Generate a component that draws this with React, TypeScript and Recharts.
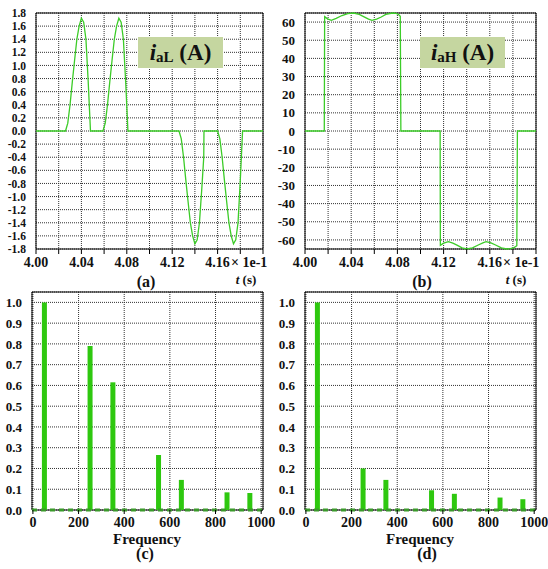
import {
  Bar,
  CartesianGrid,
  ComposedChart,
  Line,
  LineChart,
  ReferenceArea,
  ReferenceLine,
  XAxis,
  YAxis,
} from "recharts";

// (a) low-voltage side phase current, time in units of 1e-1 s
const lowTime = [
  4.0, 4.026, 4.028, 4.03, 4.032, 4.034, 4.036, 4.038, 4.04, 4.042, 4.044, 4.046, 4.048,
  4.059, 4.061, 4.063, 4.065, 4.067, 4.069, 4.071, 4.073, 4.075, 4.077, 4.079, 4.081,
  4.126, 4.128, 4.13, 4.132, 4.134, 4.136, 4.138, 4.14, 4.142, 4.144, 4.146, 4.1478, 4.148,
  4.16, 4.162, 4.164, 4.166, 4.168, 4.17, 4.172, 4.174, 4.176, 4.178, 4.18, 4.182, 4.2,
];
const lowCurrent = [
  0, 0, 0.12, 0.4, 0.75, 1.08, 1.4, 1.6, 1.72, 1.66, 1.4, 0.75, 0,
  0, 0.12, 0.4, 0.75, 1.08, 1.4, 1.6, 1.72, 1.66, 1.4, 0.75, 0,
  0, -0.12, -0.4, -0.75, -1.08, -1.4, -1.6, -1.72, -1.66, -1.4, -0.9, -0.4, 0,
  0, -0.12, -0.4, -0.75, -1.08, -1.4, -1.6, -1.72, -1.66, -1.4, -0.75, 0, 0,
];

// (b) high-voltage side phase current
const highTime = [
  4.0, 4.0167, 4.017, 4.0195, 4.0228, 4.027, 4.032, 4.037, 4.042, 4.047, 4.052, 4.055,
  4.058, 4.062, 4.066, 4.07, 4.0757, 4.079, 4.081, 4.0825, 4.083,
  4.117, 4.1172, 4.12, 4.1242, 4.128, 4.132, 4.136, 4.1401, 4.145, 4.15, 4.154, 4.1568,
  4.161, 4.165, 4.17, 4.1747, 4.178, 4.181, 4.1834, 4.1839, 4.2,
];
const highCurrent = [
  0, 0, 63, 61.8, 61, 62, 63.6, 64.7, 65, 64.2, 62.6, 61.6,
  61, 61.6, 62.8, 64.2, 65, 64.8, 64.2, 63.2, 0,
  0, -63, -61.8, -61, -61.8, -63, -64.4, -65, -64.4, -62.8, -61.6, -61,
  -61.6, -62.8, -64.4, -65, -64.8, -64.2, -63.2, 0, 0,
];

const harmonicFreq = [50, 250, 350, 550, 650, 850, 950];
const lowSpectrum = [1.0, 0.79, 0.615, 0.265, 0.145, 0.085, 0.082];
const highSpectrum = [1.0, 0.2, 0.145, 0.095, 0.078, 0.06, 0.052];

const timeTicks = [4.0, 4.02, 4.04, 4.06, 4.08, 4.1, 4.12, 4.14, 4.16, 4.18, 4.2];
const lowTicks = [-1.8, -1.6, -1.4, -1.2, -1.0, -0.8, -0.6, -0.4, -0.2, 0, 0.2, 0.4, 0.6, 0.8, 1.0, 1.2, 1.4, 1.6, 1.8];
const highTicks = [-60, -50, -40, -30, -20, -10, 0, 10, 20, 30, 40, 50, 60];
const freqTicks = [0, 200, 400, 600, 800, 1000];
const ampTicks = [0, 0.1, 0.2, 0.3, 0.4, 0.5, 0.6, 0.7, 0.8, 0.9, 1.0];

const FONT = '"Liberation Serif", "Times New Roman", serif';
const LINE_GREEN = "#3ccc28";
const BAR_GREEN = "#2ec80f";
const xTick = { fontSize: 14, fill: "#111", fontFamily: FONT, fontWeight: 700 };
const yTick = { fontSize: 13, fill: "#111", fontFamily: FONT, fontWeight: 700 };
const denseTick = { ...yTick, fontSize: 11.5 };

const zip = (xs: number[], ys: number[]) => xs.map((t, i) => ({ t, v: ys[i] }));

const timeLabel = (v: number) => {
  const k = Math.round(v * 100);
  return k % 4 === 0 && k < 419 ? v.toFixed(2) : "";
};

const WaveChart = ({ data, domain, ticks, fmt, left, width, yWidth, yStyle }: any) => (
  <div style={{ position: "absolute", left, top: 0 }}>
    <LineChart width={width} height={280} data={data} margin={{ top: 13, right: 12, bottom: 0, left: 0 }}>
      <CartesianGrid stroke="#333" strokeDasharray="1 1" />
      <XAxis
        type="number"
        dataKey="t"
        domain={[4.0, 4.2]}
        ticks={timeTicks}
        interval={0}
        tickFormatter={timeLabel}
        tick={xTick}
        height={31}
        tickSize={5}
        tickMargin={3}
        axisLine={false}
        stroke="#000"
      />
      <YAxis
        type="number"
        domain={domain}
        ticks={ticks}
        interval={0}
        tickFormatter={fmt}
        tick={yStyle}
        width={yWidth}
        tickLine={false}
        axisLine={false}
        tickMargin={4}
      />
      <ReferenceArea x1={4.0} x2={4.2} y1={domain[0]} y2={domain[1]} fill="none" stroke="#000" strokeOpacity={1} />
      <Line type="linear" dataKey="v" stroke={LINE_GREEN} strokeWidth={1.3} dot={false} isAnimationActive={false} />
    </LineChart>
  </div>
);

const SpectrumChart = ({ values, left, width, yWidth }: any) => {
  const data = harmonicFreq.map((f, i) => ({ f, a: values[i] }));
  return (
    <div style={{ position: "absolute", left, top: 280 }}>
      <ComposedChart width={width} height={289} data={data} margin={{ top: 12, right: 12, bottom: 0, left: 0 }}>
        <CartesianGrid stroke="#333" strokeDasharray="1 1" />
        <XAxis
          type="number"
          dataKey="f"
          domain={[-4, 1008]}
          ticks={freqTicks}
          interval={0}
          tick={xTick}
          height={59}
          tickSize={4}
          tickMargin={3}
          axisLine={false}
          stroke="#000"
        />
        <YAxis
          type="number"
          domain={[0, 1.05]}
          ticks={ampTicks}
          interval={0}
          tickFormatter={(v: number) => v.toFixed(1)}
          tick={yTick}
          width={yWidth}
          tickLine={false}
          axisLine={false}
          tickMargin={4}
        />
        <ReferenceArea x1={-4} x2={1008} y1={0} y2={1.05} fill="none" stroke="#000" strokeOpacity={1} />
        <ReferenceLine y={0} stroke="#3a9a2a" strokeDasharray="5 4" strokeWidth={3} />
        <Bar dataKey="a" fill={BAR_GREEN} barSize={5} isAnimationActive={false} />
      </ComposedChart>
    </div>
  );
};

const Caption = ({ x, y, size = 15, anchor = "center", children }: any) => (
  <div
    style={{
      position: "absolute",
      left: x,
      top: y,
      transform: anchor === "center" ? "translate(-50%, -50%)" : "translate(0, -50%)",
      fontFamily: FONT,
      fontWeight: 700,
      fontSize: size,
      color: "#111",
      whiteSpace: "nowrap",
      lineHeight: 1,
    }}
  >
    {children}
  </div>
);

const Badge = ({ left, sub }: any) => (
  <div
    style={{
      position: "absolute",
      left,
      top: 37,
      width: 85,
      height: 31,
      background: "#c5d6a0",
      display: "flex",
      alignItems: "center",
      justifyContent: "center",
      fontFamily: FONT,
      fontWeight: 700,
      fontSize: 23,
      color: "#111",
      lineHeight: 1,
    }}
  >
    <span style={{ fontStyle: "italic" }}>i</span>
    <span style={{ fontSize: 15, position: "relative", top: 5 }}>{sub}</span>
    <span>&nbsp;(A)</span>
  </div>
);

export default function App() {
  return (
    <div style={{ position: "absolute", left: 0, top: 0, width: 548, height: 569, background: "#fff", overflow: "hidden" }}>
      <style>{`svg text { font-family: ${FONT} !important; font-weight: 700 !important; }`}</style>
      <WaveChart
        data={zip(lowTime, lowCurrent)}
        domain={[-1.8, 1.8]}
        ticks={lowTicks}
        fmt={(v: number) => v.toFixed(1)}
        left={0}
        width={275}
        yWidth={36}
        yStyle={denseTick}
      />
      <WaveChart
        data={zip(highTime, highCurrent)}
        domain={[-65, 65]}
        ticks={highTicks}
        fmt={(v: number) => String(v)}
        left={275}
        width={273}
        yWidth={30}
        yStyle={yTick}
      />
      <SpectrumChart values={lowSpectrum} left={0} width={275} yWidth={32} />
      <SpectrumChart values={highSpectrum} left={275} width={273} yWidth={30} />

      <Badge left={138} sub="aL" />
      <Badge left={420} sub="aH" />

      <Caption x={231} y={263} size={14} anchor="left">× 1e-1</Caption>
      <Caption x={503} y={263} size={14} anchor="left">× 1e-1</Caption>
      <Caption x={246} y={279} size={13}>
        <i>t</i> (s)
      </Caption>
      <Caption x={516} y={279} size={13}>
        <i>t</i> (s)
      </Caption>
      <Caption x={146} y={282} size={16}>(a)</Caption>
      <Caption x={422} y={282} size={16}>(b)</Caption>
      <Caption x={147} y={539}>Frequency</Caption>
      <Caption x={420} y={539}>Frequency</Caption>
      <Caption x={145} y={554} size={16}>(c)</Caption>
      <Caption x={427} y={554} size={16}>(d)</Caption>
    </div>
  );
}
